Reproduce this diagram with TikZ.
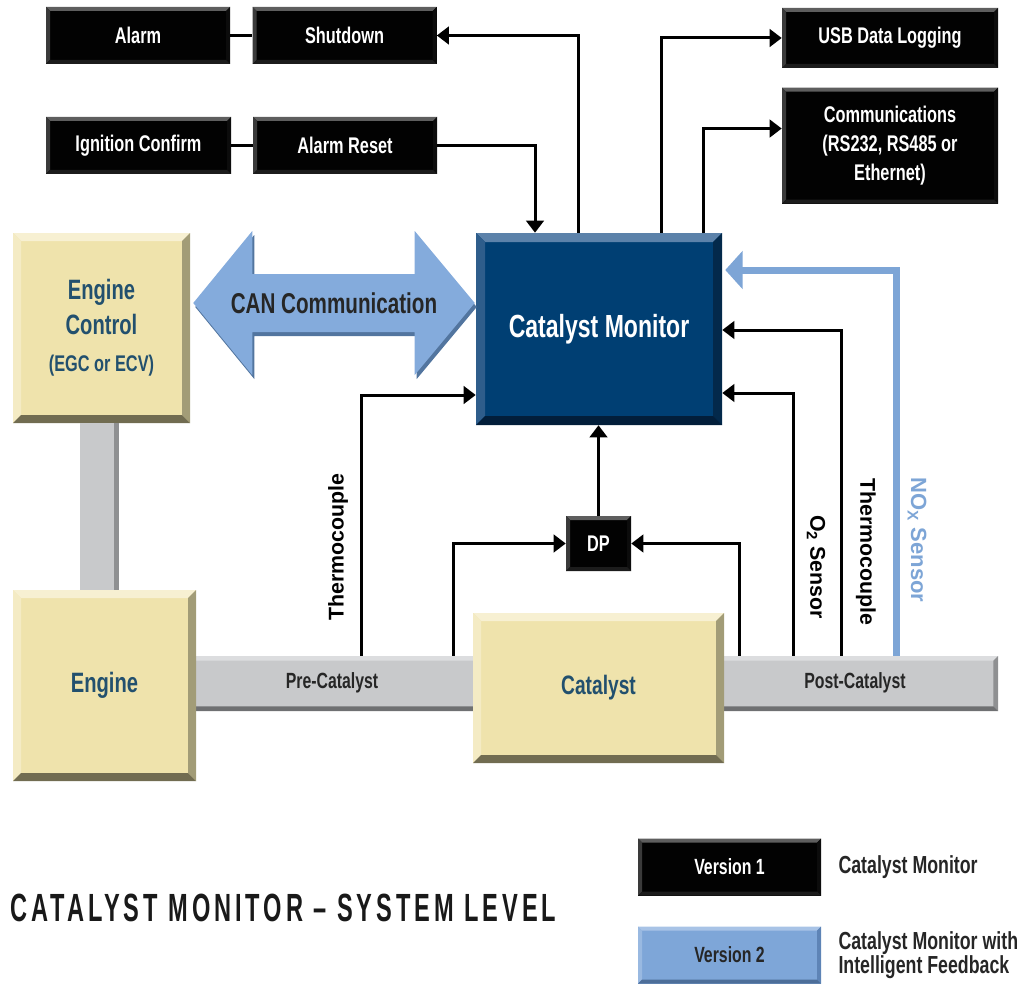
\documentclass[tikz,border=0pt]{standalone}
\usepackage{fontspec}
\setmainfont{Liberation Sans}[FakeStretch=0.72]
\newfontfamily\widefont{Liberation Sans}
\newfontfamily\titlefont{Liberation Sans}[FakeStretch=0.6,LetterSpace=10]
\usepackage{tikz}
\usetikzlibrary{arrows.meta,positioning,calc,shadows}

\newdimen\pxu \pxu=0.75pt

\definecolor{navyfill}{HTML}{003F73}
\definecolor{navytop}{HTML}{5C82AA}
\definecolor{navyleft}{HTML}{2E5D8B}
\definecolor{navyright}{HTML}{03294B}
\definecolor{navybot}{HTML}{021E3A}
\definecolor{beigefill}{HTML}{EFE3AC}
\definecolor{beigetop}{HTML}{F7F0D2}
\definecolor{beigeleft}{HTML}{F4EBC4}
\definecolor{beigeright}{HTML}{A29C77}
\definecolor{beigebot}{HTML}{716C51}
\definecolor{pipefill}{HTML}{C8C9CB}
\definecolor{pipetop}{HTML}{DCDDDF}
\definecolor{piperight}{HTML}{8F9092}
\definecolor{pipebot}{HTML}{6F7072}
\definecolor{blkfill}{HTML}{020202}
\definecolor{blktop}{HTML}{5E5E5E}
\definecolor{blkleft}{HTML}{3A3A3A}
\definecolor{blkright}{HTML}{0C0C0C}
\definecolor{blkbot}{HTML}{1C1C1C}
\definecolor{v2fill}{HTML}{7EA6D8}
\definecolor{v2top}{HTML}{A8C3E6}
\definecolor{v2left}{HTML}{99B9E1}
\definecolor{v2right}{HTML}{5E84B6}
\definecolor{v2bot}{HTML}{4D6E99}
\definecolor{noxblue}{HTML}{7DA5D6}
\definecolor{canblue}{HTML}{84ABDC}
\definecolor{canshade}{HTML}{52759F}
\definecolor{engtext}{HTML}{22506E}

\tikzset{
  bevelbox/.style n args={6}{fill=#1, path picture={
      \path (path picture bounding box.north west) coordinate (bNW)
            (path picture bounding box.north east) coordinate (bNE)
            (path picture bounding box.south east) coordinate (bSE)
            (path picture bounding box.south west) coordinate (bSW);
      \fill[#2] (bNW) -- (bNE) -- ([shift={(-#6,-#6)}]bNE) -- ([shift={(#6,-#6)}]bNW) -- cycle;
      \fill[#3] (bNW) -- (bSW) -- ([shift={(#6,#6)}]bSW) -- ([shift={(#6,-#6)}]bNW) -- cycle;
      \fill[#4] (bNE) -- (bSE) -- ([shift={(-#6,#6)}]bSE) -- ([shift={(-#6,-#6)}]bNE) -- cycle;
      \fill[#5] (bSW) -- (bSE) -- ([shift={(-#6,#6)}]bSE) -- ([shift={(#6,#6)}]bSW) -- cycle;
  }},
  blackbox/.style={bevelbox={blkfill}{blktop}{blkleft}{blkright}{blkbot}{3pt},
    text=white, align=center, inner sep=0pt,
    font=\bfseries\fontsize{17}{21.75}\selectfont},
  navybox/.style={bevelbox={navyfill}{navytop}{navyleft}{navyright}{navybot}{6.75pt},
    text=white, font=\bfseries\fontsize{24}{28}\selectfont},
  beigebox/.style={bevelbox={beigefill}{beigetop}{beigeleft}{beigeright}{beigebot}{6pt},
    text=engtext, align=center, font=\bfseries\fontsize{21}{26}\selectfont},
  pipebox/.style={bevelbox={pipefill}{pipetop}{pipefill}{piperight}{pipebot}{3.5pt}},
  v2box/.style={bevelbox={v2fill}{v2top}{v2left}{v2right}{v2bot}{3pt},
    text=black!85, inner sep=0pt, font=\bfseries\fontsize{16.5}{20}\selectfont},
  sensorlbl/.style={font=\widefont\bfseries\fontsize{16}{18}\selectfont, inner sep=0pt},
  pipelbl/.style={font=\bfseries\fontsize{16.5}{20}\selectfont, text=black!85},
  legtxt/.style={font=\bfseries\fontsize{18.5}{18}\selectfont, text=black!85, align=left, inner sep=0pt},
  wire/.style={line width=2.25pt},
  arr/.style={wire, -{Triangle[length=9pt,width=13pt]}},
  noxarr/.style={line width=5.25pt, noxblue, -{Triangle[length=13pt,width=28pt]}},
}

\begin{document}
\begin{tikzpicture}[x=1\pxu, y=-1\pxu]
    \useasboundingbox (0,0) rectangle (1021,988);

    % Inputs and outputs
    \node[blackbox, minimum width=184\pxu, minimum height=57\pxu] (alarm) at (138,35.5) {Alarm};
    \node[blackbox, minimum width=184\pxu, minimum height=57\pxu, right=22\pxu of alarm] (shut) {Shutdown};
    \node[blackbox, minimum width=185\pxu, minimum height=57\pxu] (ign) at (138.5,145.5) {Ignition Confirm};
    \node[blackbox, minimum width=184\pxu, minimum height=57\pxu, right=21.5\pxu of ign] (reset) {Alarm Reset};
    \node[blackbox, minimum width=216\pxu, minimum height=60\pxu] (usb) at (890,38) {USB Data Logging};
    \node[blackbox, minimum width=216\pxu, minimum height=116\pxu, below=19\pxu of usb] (comm)
        {Communications\\(RS232, RS485 or\\Ethernet)};
    \draw[wire] (alarm) -- (shut);
    \draw[wire] (ign) -- (reset);

    % Exhaust pipe
    \node[pipebox, minimum width=808\pxu, minimum height=55\pxu] (pipe) at (594,683.5) {};
    \node[pipelbl] (pre) at (332,683) {Pre-Catalyst};
    \node[pipelbl] (post) at (855,683) {Post-Catalyst};

    % Main blocks
    \node[beigebox, minimum width=177\pxu, minimum height=190\pxu] (ctrl) at (101.5,328)
        {Engine\\Control\\[2pt]{\fontsize{17}{20}\selectfont(EGC or ECV)}};
    \node[beigebox, minimum width=183\pxu, minimum height=191\pxu] (engine) at (104.5,685.5) {Engine};
    \node[beigebox, minimum width=251\pxu, minimum height=150\pxu, font=\bfseries\fontsize{20}{24}\selectfont]
        (cat) at (598.5,688) {Catalyst};
    \node[navybox, minimum width=246\pxu, minimum height=192\pxu] (cm) at (599,329) {Catalyst Monitor};
    \node[blackbox, minimum width=65\pxu, minimum height=55\pxu] (dp) at (598.5,543.5) {DP};

    % Engine control to engine
    \fill[pipefill] ($(ctrl.south west)+(67,0)$) rectangle ($(engine.north west)+(106,0)$);
    \fill[piperight] ($(ctrl.south west)+(101,0)$) rectangle ($(engine.north west)+(106,0)$);

    % CAN link
    \coordinate (canW) at ($(ctrl.east)+(3,-25)$);
    \coordinate (canE) at ($(cm.west)+(-1,-26)$);
    \fill[canblue, drop shadow={shadow xshift=1.5pt, shadow yshift=-3pt, opacity=1, fill=canshade}]
        (canW) -- ($(canW)+(59,-72)$) -- ($(canW)+(59,-29)$) -- ($(canE)+(-60,-29)$)
        -- ($(canE)+(-60,-72)$) -- (canE) -- ($(canE)+(-60,72)$) -- ($(canE)+(-60,29)$)
        -- ($(canW)+(59,29)$) -- ($(canW)+(59,72)$) -- cycle;
    \node[font=\bfseries\fontsize{21.5}{24}\selectfont, text=black!85] (canlbl) at (334,303) {CAN Communication};

    % Monitor outputs and inputs (top)
    \draw[arr] ($(cm.north)+(-21,0)$) |- (shut.east);
    \draw[arr] (reset.east) -| ($(cm.north)+(-64,0)$);
    \draw[arr] ($(cm.north)+(62,0)$) |- (usb.west);
    \draw[arr] ($(cm.north)+(104,0)$) |- ($(comm.west)+(0,-17)$);

    % Sensors
    \draw[arr] ($(pipe.north west)+(172,0)$) |- ($(cm.west)+(0,66)$);
    \draw[arr] ($(pipe.north west)+(264,0)$) |- (dp.west);
    \draw[arr] ($(pipe.north west)+(550,0)$) |- (dp.east);
    \draw[arr] (dp.north) -- (dp.north |- cm.south);
    \draw[arr] ($(pipe.north west)+(604,0)$) |- ($(cm.east)+(0,64)$);
    \draw[arr] ($(pipe.north west)+(652,0)$) |- ($(cm.east)+(0,1)$);
    \draw[noxarr] ($(pipe.north west)+(707,0)$) |- ($(cm.east)+(3,-59)$);

    \node[sensorlbl, rotate=90] (tcpre) at (338,547) {Thermocouple};
    \node[sensorlbl, rotate=-90] (o2) at (816,567) {O\textsubscript{2} Sensor};
    \node[sensorlbl, rotate=-90] (tcpost) at (866,552) {Thermocouple};
    \node[sensorlbl, rotate=-90, text=noxblue, font=\widefont\bfseries\fontsize{16.5}{18}\selectfont]
        (nox) at (917,540) {NO\textsubscript{X} Sensor};

    % Title and legend
    \node[anchor=west, inner sep=0pt, text=black!90, font=\titlefont\bfseries\fontsize{29.5}{32}\selectfont]
        (title) at (10,908) {CATALYST MONITOR – SYSTEM LEVEL};
    \node[blackbox, minimum width=183\pxu, minimum height=57\pxu, font=\bfseries\fontsize{16.5}{20}\selectfont]
        (v1) at (729.5,867) {Version 1};
    \node[v2box, minimum width=183\pxu, minimum height=57\pxu, below=30.5\pxu of v1] (v2) {Version 2};
    \node[legtxt, right=17\pxu of v1] (v1txt) {Catalyst Monitor};
    \node[legtxt, right=17\pxu of v2] (v2txt) {Catalyst Monitor with\\Intelligent Feedback};
\end{tikzpicture}
\end{document}
